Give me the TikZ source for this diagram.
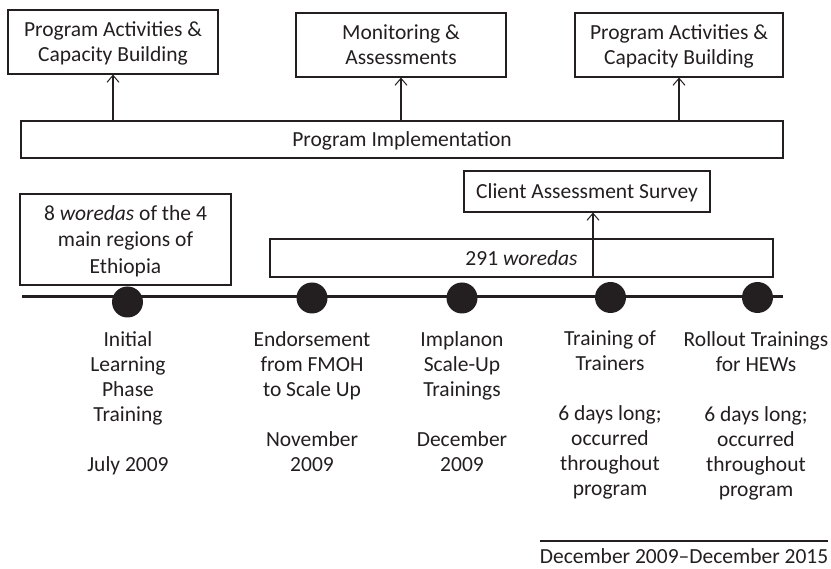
\documentclass[tikz,border=0pt]{standalone}
\usepackage{fontspec}
\setmainfont{Carlito}
\usetikzlibrary{arrows.meta}
\definecolor{ink}{HTML}{231F20}
\tikzset{
  box/.style={draw=ink, line width=1.1pt, inner sep=0pt, align=center, text=ink, text depth=0pt},
  arr/.style={draw=ink, line width=1.1pt, -{Straight Barb[length=7pt,width=12pt,line width=1pt]}},
  lbl/.style={anchor=north, inner sep=0pt, align=center, text=ink},
  evdot/.style={circle, fill=ink, inner sep=0pt, minimum size=31pt},
}
\begin{document}
\begin{tikzpicture}[x=1pt, y=-1pt, font=\fontsize{21.5}{25}\selectfont]
\useasboundingbox (0,0) rectangle (831,569);
% top boxes
\node[box, minimum width=210pt, minimum height=64pt] (b1) at (113,42) {Program Activities \&\\Capacity Building};
\node[box, minimum width=210pt, minimum height=64pt] (b2) at (401,45) {Monitoring \&\\Assessments};
\node[box, minimum width=208pt, minimum height=64pt] (b3) at (679,45) {Program Activities \&\\Capacity Building};
\node[box, minimum width=762pt, minimum height=37pt] (impl) at (402,139.5) {Program Implementation};
\draw[arr] (impl.north -| b1.south) -- (b1.south);
\draw[arr] (impl.north -| b2.south) -- (b2.south);
\draw[arr] (impl.north -| b3.south) -- (b3.south);
% woredas boxes
\node[box, minimum width=211pt, minimum height=91pt, font=\fontsize{21.5}{26.5}\selectfont] (w8) at (125.5,239.5) {8 \textit{woredas} of the 4\\main regions of\\Ethiopia};
\node[box, minimum width=503pt, minimum height=38pt] (w291) at (521.5,258) {291 \textit{woredas}};
\node[box, minimum width=246pt, minimum height=41pt] (cas) at (587,191.5) {Client Assessment Survey};
\coordinate (ca) at (593,0);
\draw[arr] (w291.south -| ca) -- (cas.south -| ca);
% timeline
\coordinate (tl0) at (22,297);
\coordinate (tl1) at (783,297);
\draw[ink, line width=3pt] (tl0) -- (tl1);
\node[evdot] (d1) at (127.5,302) {};
\node[evdot] (d2) at (312,298) {};
\node[evdot] (d3) at (462,298) {};
\node[evdot] (d4) at (610.5,297.5) {};
\node[evdot] (d5) at (757.5,297.5) {};
% labels
\node[lbl] (l1) at (128,331) {Initial\\Learning\\Phase\\Training\\[25pt]July 2009};
\node[lbl] (l2) at (312,331) {Endorsement\\from FMOH\\to Scale Up\\[25pt]November\\2009};
\node[lbl] (l3) at (462,331) {Implanon\\Scale-Up\\Trainings\\[25pt]December\\2009};
\node[lbl] (l4) at (610,331) {Training of\\Trainers\\[25pt]6 days long;\\occurred\\throughout\\program};
\node[lbl] (l5) at (756,331) {Rollout Trainings\\for HEWs\\[25pt]6 days long;\\occurred\\throughout\\program};
% bottom period
\coordinate (p0) at (540,541);
\coordinate (p1) at (828,541);
\draw[ink, line width=2pt] (p0) -- (p1);
\node[anchor=base, inner sep=0pt, text=ink] (period) at (684,563) {December 2009--December 2015};
\end{tikzpicture}
\end{document}
